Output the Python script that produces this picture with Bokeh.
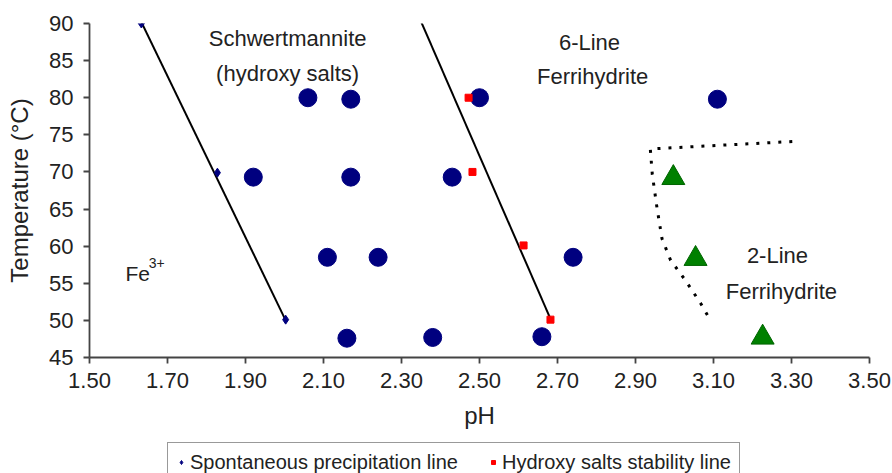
from bokeh.plotting import figure
from bokeh.layouts import column
from bokeh.models import Range1d, FixedTicker, NumeralTickFormatter, ColumnDataSource, Legend, LegendItem
from bokeh.core.properties import value
from bokeh.embed import file_html
from bokeh.resources import INLINE

# ---- data ----
circle_ph = [2.06, 2.17, 2.50, 3.11, 1.92, 2.17, 2.43, 2.11, 2.24, 2.74, 2.16, 2.38, 2.66]
circle_t = [80.0, 79.8, 80.0, 79.8, 69.3, 69.3, 69.3, 58.5, 58.5, 58.5, 47.6, 47.7, 47.8]

tri_ph = [2.997, 3.054, 3.226]
tri_t = [69.2, 58.3, 47.7]

spont_ph = [1.633, 1.828, 2.003]
spont_t = [90.0, 69.9, 50.1]
spont_line_ph = [1.632, 2.003]
spont_line_t = [90.3, 50.0]

hyd_ph = [2.472, 2.482, 2.613, 2.682]
hyd_t = [80.0, 70.0, 60.1, 50.1]
hyd_line_ph = [2.349, 2.682]
hyd_line_t = [90.4, 50.2]

bound_ph = [3.302, 2.938, 2.943, 2.955, 2.968, 2.99, 3.028, 3.067, 3.09]
bound_t = [74.1, 73.1, 69.7, 65.2, 61.0, 58.1, 55.4, 52.3, 50.2]

label_text = ["Schwertmannite", "(hydroxy salts)", "6-Line", "Ferrihydrite", "2-Line", "Ferrihydrite"]
label_ph = [2.008, 2.008, 2.782, 2.79, 3.264, 3.274]
label_t = [87.98, 83.26, 87.44, 82.86, 58.73, 53.88]

fe_text = ["Fe"]
fe_ph = [1.592]
fe_t = [56.3]
sup_text = ["3+"]
sup_ph = [1.652]
sup_t = [57.0]

legend_labels = ["Spontaneous precipitation line", "Hydroxy salts stability line"]

x_ticks = [1.5, 1.7, 1.9, 2.1, 2.3, 2.5, 2.7, 2.9, 3.1, 3.3, 3.5]
y_ticks = [45, 50, 55, 60, 65, 70, 75, 80, 85, 90]

FONT = "Liberation Sans"
TXT = "#222222"
NAVY = "#00007f"
RED = "#ff0000"

p = figure(width=892, height=441, frame_width=780, frame_height=334,
           min_border_left=89, min_border_right=23, min_border_top=23, min_border_bottom=84,
           x_range=Range1d(1.5, 3.5), y_range=Range1d(45, 90),
           output_backend="svg", toolbar_location=None)
p.grid.visible = False
p.outline_line_color = None
p.background_fill_color = "white"
p.border_fill_color = "white"

for ax in (p.xaxis[0], p.yaxis[0]):
    ax.axis_line_color = "#444444"
    ax.axis_line_width = 1.8
    ax.major_tick_line_color = "#444444"
    ax.major_tick_line_width = 1.8
    ax.major_tick_in = 0
    ax.major_tick_out = 6
    ax.minor_tick_line_color = None
    ax.major_label_text_font = FONT
    ax.major_label_text_font_size = "22px"
    ax.major_label_text_color = TXT
    ax.axis_label_text_font = FONT
    ax.axis_label_text_font_size = "24px"
    ax.axis_label_text_font_style = "normal"
    ax.axis_label_text_color = TXT

p.xaxis[0].ticker = FixedTicker(ticks=x_ticks)
p.xaxis[0].formatter = NumeralTickFormatter(format="0.00")
p.xaxis[0].axis_label = "pH"
p.xaxis[0].major_label_standoff = 9
p.xaxis[0].axis_label_standoff = 11
p.yaxis[0].ticker = FixedTicker(ticks=y_ticks)
p.yaxis[0].axis_label = "Temperature (°C)"
p.yaxis[0].major_label_standoff = 10
p.yaxis[0].axis_label_standoff = 13

# boundary (dotted)
p.line(bound_ph, bound_t, line_color="black", line_width=3, line_dash="3 8")

# trend lines
p.line(spont_line_ph, spont_line_t, line_color="black", line_width=2)
p.line(hyd_line_ph, hyd_line_t, line_color="black", line_width=2)

# data markers
p.scatter(circle_ph, circle_t, marker="circle", size=18, fill_color=NAVY, line_color=NAVY)
p.scatter(tri_ph, tri_t, marker="triangle", size=23, fill_color="#008000", line_color="#006400")
p.scatter(spont_ph, spont_t, marker="diamond", size=9, fill_color=NAVY, line_color=NAVY)
p.scatter(hyd_ph, hyd_t, marker="square", size=7, fill_color=RED, line_color=RED)

# region labels
src = ColumnDataSource(dict(x=label_ph, y=label_t, t=label_text))
p.text("x", "y", text="t", source=src, text_align="center", text_baseline="middle",
       text_font=value(FONT), text_font_size="22px", text_color=TXT)
p.text(fe_ph, fe_t, text=fe_text, text_align="left", text_baseline="middle",
       text_font=value(FONT), text_font_size="21px", text_color=TXT)
p.text(sup_ph, sup_t, text=sup_text, text_align="left", text_baseline="bottom",
       text_font=value(FONT), text_font_size="14px", text_color=TXT)

# legend strip below the chart (separate small figure; its proxy markers lie outside its range)
q = figure(width=892, height=32, min_border_left=0, min_border_right=0,
           min_border_top=0, min_border_bottom=0,
           x_range=Range1d(0, 892), y_range=Range1d(0, 32),
           x_axis_location=None, y_axis_location=None,
           output_backend="svg", toolbar_location=None)
q.grid.visible = False
q.outline_line_color = None
q.background_fill_color = "white"
q.border_fill_color = "white"
r_sp = q.scatter(spont_ph, spont_t, marker="diamond", size=9, fill_color=NAVY, line_color=NAVY)
r_hy = q.scatter(hyd_ph, hyd_t, marker="square", size=7, fill_color=RED, line_color=RED)

legend = Legend(items=[LegendItem(label=legend_labels[0], renderers=[r_sp]),
                       LegendItem(label=legend_labels[1], renderers=[r_hy])],
                orientation="horizontal", location=(78, -9.5), margin=0,
                label_text_font=FONT, label_text_font_size="20px", label_text_color=TXT,
                label_height=18, glyph_width=10, glyph_height=10, label_standoff=4,
                spacing=30, padding=8,
                border_line_color="#333333", border_line_width=1.5,
                background_fill_color="white", background_fill_alpha=1.0)
q.add_layout(legend, "center")

layout = column(p, q, spacing=0)
open("out.html", "w").write(file_html(layout, INLINE))
